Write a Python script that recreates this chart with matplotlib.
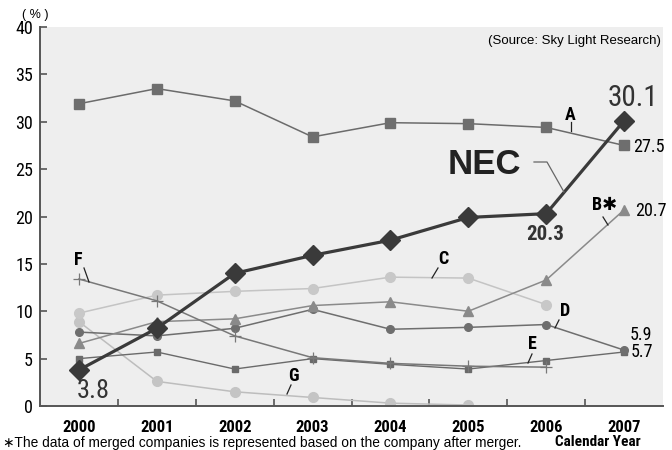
import matplotlib
matplotlib.use("Agg")
import matplotlib.pyplot as plt
from matplotlib import font_manager

# fonts: look for a narrow face, else fall back to Liberation Sans
names = {f.name for f in font_manager.fontManager.ttflist}
narrow_name = None
for n in ["Liberation Sans Narrow", "Arial Narrow", "DejaVu Sans Condensed",
          "Roboto Condensed", "Open Sans Condensed"]:
    if n in names:
        narrow_name = n
        break
if narrow_name is None:
    for f in font_manager.fontManager.ttflist:
        if "Narrow" in f.name or "Condensed" in f.name:
            narrow_name = f.name
            break
k = 1.0 if narrow_name else 0.88
NARROW = [narrow_name or "Liberation Sans", "DejaVu Sans"]
ARIAL = ["Liberation Sans", "DejaVu Sans"]
plt.rcParams["font.family"] = NARROW

# data
years = ["2000", "2001", "2002", "2003", "2004", "2005", "2006", "2007"]
nec = [3.8, 8.2, 14.0, 15.9, 17.5, 19.9, 20.3, 30.1]
a_vals = [31.9, 33.5, 32.2, 28.4, 29.9, 29.8, 29.4, 27.5]
b_vals = [6.6, 8.9, 9.2, 10.6, 11.0, 10.0, 13.3, 20.7]
c_vals = [9.8, 11.7, 12.1, 12.4, 13.6, 13.5, 10.7]
d_vals = [7.8, 7.4, 8.2, 10.2, 8.1, 8.3, 8.6, 5.9]
e_vals = [5.0, 5.7, 3.9, 5.0, 4.4, 3.9, 4.8, 5.7]
f_vals = [13.4, 11.1, 7.4, 5.1, 4.5, 4.2, 4.1]
g_vals = [8.9, 2.6, 1.5, 0.9, 0.3, 0.1]

fig = plt.figure(figsize=(6.72, 4.5), dpi=100)
ax = fig.add_axes([40 / 672, 1 - 406 / 450, 623 / 672, 379 / 450])
ax.set_facecolor("#eeeeee")

x = list(range(len(years)))

def series(vals, color, marker, ms, lw=1.1, mc=None, z=2, mew=1.0):
    ax.plot(x[:len(vals)], vals, color=color, lw=lw, marker=marker, ms=ms,
            markerfacecolor=mc or color, markeredgecolor=mc or color,
            markeredgewidth=mew, zorder=z)

series(g_vals, "#bdbdbd", "o", 7, mc="#c4c4c4")
series(c_vals, "#c4c4c4", "o", 7, mc="#c8c8c8")
series(f_vals, "#787878", "+", 9, mew=0.9, z=3)
series(e_vals, "#6a6a6a", "s", 4.5, lw=1.0)
series(d_vals, "#6e6e6e", "o", 5.5)
series(b_vals, "#8a8a8a", "^", 7.5)
series(a_vals, "#6b6b6b", "s", 7, mc="#6e6e6e")
series(nec, "#3a3a3a", "D", 10, lw=2.3, z=5)

ax.set_xlim(-0.5, 7.5)
ax.set_ylim(0, 40)
ax.set_yticks(range(0, 41, 5))
ax.set_xticks(x)
ax.set_xticklabels(years, fontweight="bold", fontsize=12 * k)
ax.set_xticks([i + 0.5 for i in range(7)], minor=True)
ax.tick_params(axis="x", which="major", length=0, pad=10)
ax.tick_params(axis="x", which="minor", direction="in", length=5, width=1.2, color="#555555")
ax.tick_params(axis="y", direction="in", length=5, width=1.2, color="#555555",
               labelsize=13 * k, pad=5)
for s in ("top", "right"):
    ax.spines[s].set_visible(False)
for s in ("left", "bottom"):
    ax.spines[s].set_color("#555555")
    ax.spines[s].set_linewidth(1.4)


def px(xp, yp):
    return (xp / 672, 1 - yp / 450)


def ftext(xp, yp, s, **kw):
    fig.text(*px(xp, yp), s, ha=kw.pop("ha", "center"), va=kw.pop("va", "center"), **kw)


def leader(pts, color="#222222", lw=0.9):
    xs = [p[0] / 672 for p in pts]
    ys = [1 - p[1] / 450 for p in pts]
    fig.add_artist(plt.Line2D(xs, ys, color=color, lw=lw, transform=fig.transFigure))


ftext(35, 15, "( % )", fontsize=9, family=ARIAL)
ftext(661, 41, "(Source: Sky Light Research)", fontsize=9.5, family=ARIAL, ha="right")

# value labels
ftext(633, 98, "30.1", fontsize=21 * k, color="#333333")
ftext(93, 398, "3.8", fontsize=19 * k, color="#333333", va="baseline")
ftext(545, 234, "20.3", fontsize=15 * k, fontweight="bold", color="#333333")
ftext(649, 147, "27.5", fontsize=13 * k)
ftext(651, 211, "20.7", fontsize=13 * k)
ftext(641, 335, "5.9", fontsize=13 * k)
ftext(642, 352, "5.7", fontsize=13 * k)

# series names
ftext(484, 164, "NEC", fontsize=25, fontweight="bold", color="#222222", family=ARIAL)
leader([(534, 162), (547, 162), (564, 192)], color="#666666")
ftext(570, 115, "A", fontsize=13 * k, fontweight="bold")
leader([(571, 122), (571, 131)])
ftext(605, 205, "B\u2731", fontsize=13 * k, fontweight="bold")
leader([(603, 217), (608, 225)])
ftext(443, 259, "C", fontsize=13 * k, fontweight="bold")
leader([(438, 268), (432, 278)])
ftext(565, 311, "D", fontsize=13 * k, fontweight="bold")
leader([(559, 320), (555, 328)])
ftext(532, 344, "E", fontsize=13 * k, fontweight="bold")
leader([(532, 354), (528, 363)])
ftext(78, 260, "F", fontsize=13 * k, fontweight="bold")
leader([(84, 268), (89, 282)])
ftext(293, 376, "G", fontsize=13 * k, fontweight="bold")
leader([(291, 385), (287, 394)])

# footnote
ftext(3, 443, "\u2217The data of merged companies is represented based on the company after merger.",
      fontsize=9.9, family=ARIAL, ha="left")
ftext(598, 442, "Calendar Year", fontsize=11 * k, fontweight="bold")

fig.savefig("out.png", dpi=100)
